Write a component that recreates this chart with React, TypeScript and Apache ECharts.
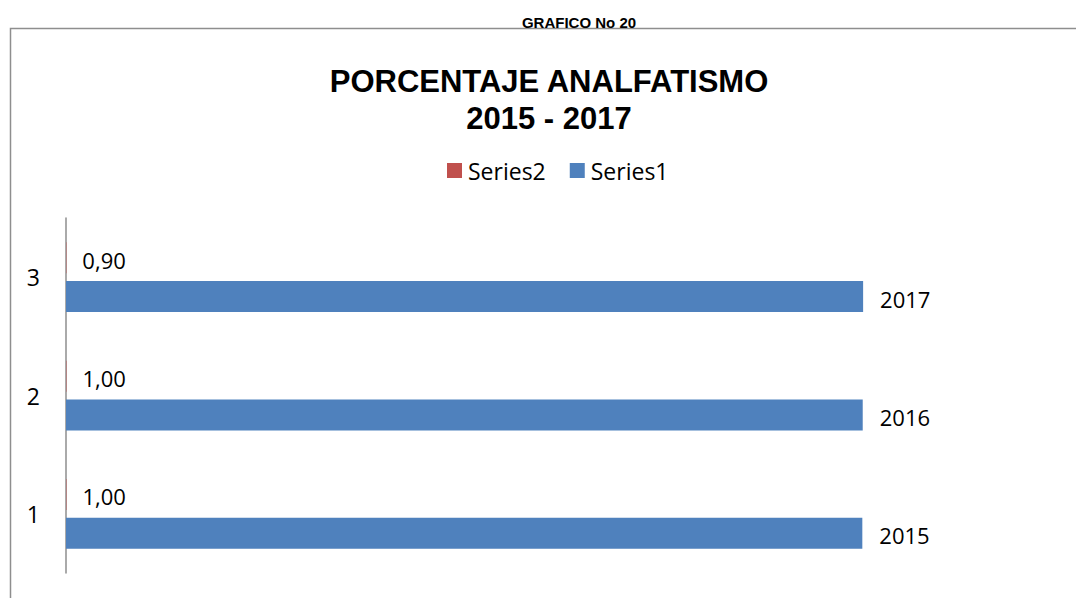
import React, { useEffect, useRef } from "react";
import * as echarts from "echarts";

const categories = ["1", "2", "3"];
const series1Values = [2015, 2016, 2017];
const series2Values = [1.0, 1.0, 0.9];
const legendNames = ["Series2", "Series1"];
const topLabel = "GRAFICO No 20";
const titleText = "PORCENTAJE ANALFATISMO\n2015 - 2017";

export default function App() {
  const ref = useRef<HTMLDivElement>(null);
  useEffect(() => {
    if (!ref.current) return;
    const chart = echarts.init(ref.current, null, { renderer: "svg" });
    const labelFont = "'Open Sans', Lato, sans-serif";
    chart.setOption({
      animation: false,
      backgroundColor: "#ffffff",
      title: [
        {
          text: topLabel,
          left: 574,
          textAlign: "center",
          top: 10,
          textStyle: { fontFamily: "'Liberation Sans', Arial", fontWeight: "bold", fontSize: 15, color: "#000" },
        },
        {
          text: titleText,
          left: 544,
          textAlign: "center",
          top: 58,
          textStyle: { fontFamily: "'Liberation Sans', Arial", fontWeight: "bold", fontSize: 31, lineHeight: 37, color: "#000" },
        },
      ],
      graphic: [
        {
          type: "rect",
          shape: { x: 10.5, y: 28.5, width: 1200, height: 700 },
          style: { fill: "none", stroke: "#8e8e8e", lineWidth: 1.5 },
          silent: true,
          z: -1,
        },
      ],
      legend: {
        data: legendNames,
        top: 154,
        left: 442,
        itemWidth: 15,
        itemHeight: 15,
        itemGap: 24,
        icon: "rect",
        textStyle: { fontFamily: labelFont, fontSize: 23, color: "#000", padding: [0, 0, 0, 1] },
      },
      grid: { left: 66, right: 22, top: 218, bottom: 25, containLabel: false },
      xAxis: {
        type: "value",
        min: 0,
        max: 2500,
        interval: 500,
        show: false,
      },
      yAxis: {
        type: "category",
        data: categories,
        axisLine: { show: true, lineStyle: { color: "#8e8e8e", width: 1.5 } },
        axisTick: { show: false },
        axisLabel: { fontFamily: labelFont, fontSize: 23, color: "#000", margin: 26 },
      },
      series: [
        {
          name: "Series2",
          type: "bar",
          data: series2Values,
          barWidth: 31,
          barGap: "25%",
          itemStyle: { color: "#C0504D" },
          label: {
            show: true,
            position: "right",
            distance: 16,
            offset: [0, 2],
            fontFamily: labelFont,
            fontSize: 22,
            color: "#000",
            formatter: (p: any) => Number(p.value).toFixed(2).replace(".", ","),
          },
        },
        {
          name: "Series1",
          type: "bar",
          data: series1Values,
          barWidth: 31,
          barGap: "25%",
          itemStyle: { color: "#4F81BD" },
          label: {
            show: true,
            position: "right",
            distance: 17,
            offset: [0, 2],
            fontFamily: labelFont,
            fontSize: 22,
            color: "#000",
            formatter: (p: any) => String(p.value),
          },
        },
      ],
    });
    return () => chart.dispose();
  }, []);
  return (
    <div
      ref={ref}
      style={{ position: "fixed", left: 0, top: 0, width: 1076, height: 598 }}
    />
  );
}
